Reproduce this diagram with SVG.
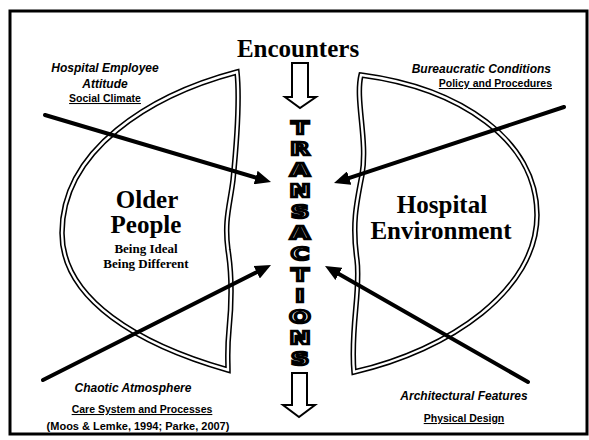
<svg xmlns="http://www.w3.org/2000/svg" width="589" height="440" viewBox="0 0 589 440">
<style>
.bg{fill:#fff}
.frame{fill:none;stroke:#000;stroke-width:3}
.outer{fill:none;stroke:#000;stroke-width:5.5;stroke-linejoin:miter}
.inner{fill:none;stroke:#fff;stroke-width:2.4;stroke-linejoin:miter}
.big{font-family:"Liberation Serif","Times New Roman",serif;font-weight:bold;font-size:25px;fill:#000;text-anchor:middle}
.sub{font-family:"Liberation Serif","Times New Roman",serif;font-weight:bold;font-size:13px;fill:#000;text-anchor:middle}
.lab{font-family:"Liberation Sans",Arial,sans-serif;font-weight:bold;font-style:italic;font-size:12px;fill:#000}
.und{font-family:"Liberation Sans",Arial,sans-serif;font-weight:bold;font-size:10.5px;fill:#000;text-decoration:underline}
.ref{font-family:"Liberation Sans",Arial,sans-serif;font-weight:bold;font-size:11px;fill:#000}
.tr{font-family:"DejaVu Sans",sans-serif;font-weight:bold;font-size:18px;fill:#fff;stroke:#000;stroke-width:2.6;text-anchor:middle}
.conn{fill:none;stroke:#000;stroke-width:4;stroke-linecap:round}
.block{fill:#fff;stroke:#000;stroke-width:2;stroke-linejoin:miter}
</style>
<defs>
<marker id="head" markerUnits="userSpaceOnUse" markerWidth="16" markerHeight="14" refX="6" refY="7" orient="auto">
<path d="M0,0 L16,7 L0,14 z" fill="#000"/>
</marker>
</defs>
<rect class="bg" x="0" y="0" width="589" height="440"/>
<g id="frame"><rect class="frame" x="10" y="11" width="577" height="423"/></g>

<g id="node-older-people">
<path class="outer" d="M237,72 C150,95 62,150 62,233 C62,300 140,345 228,370 C228,360 227,350 229,330 C232,300 232,275 228,250 C224,220 230,205 233,180 C236,150 240,100 237,72 Z"/>
<path class="inner" d="M237,72 C150,95 62,150 62,233 C62,300 140,345 228,370 C228,360 227,350 229,330 C232,300 232,275 228,250 C224,220 230,205 233,180 C236,150 240,100 237,72 Z"/>
<text class="big" x="147" y="208">Older</text>
<text class="big" x="146" y="233">People</text>
<text class="sub" x="146" y="253">Being Ideal</text>
<text class="sub" x="146" y="268">Being Different</text>
</g>

<g id="node-hospital-environment">
<path class="outer" d="M361,75 C460,88 537,140 537,215 C537,290 450,350 354,372 C350,330 361,290 357,260 C352,225 356,205 362,175 C368,140 355,100 361,75 Z"/>
<path class="inner" d="M361,75 C460,88 537,140 537,215 C537,290 450,350 354,372 C350,330 361,290 357,260 C352,225 356,205 362,175 C368,140 355,100 361,75 Z"/>
<text class="big" x="442" y="213">Hospital</text>
<text class="big" x="441" y="239">Environment</text>
</g>

<g id="node-encounters">
<text class="big" x="298" y="57">Encounters</text>
</g>

<g id="node-transactions" transform="translate(300,0) scale(1.4,1)">
<text class="tr"><tspan x="0" y="134">T</tspan><tspan x="0" y="155">R</tspan><tspan x="0" y="176">A</tspan><tspan x="0" y="197">N</tspan><tspan x="0" y="218">S</tspan><tspan x="0" y="239">A</tspan><tspan x="0" y="260">C</tspan><tspan x="0" y="281">T</tspan><tspan x="0" y="302">I</tspan><tspan x="0" y="323">O</tspan><tspan x="0" y="344">N</tspan><tspan x="0" y="365">S</tspan></text>
</g>

<g id="label-social-climate">
<text class="lab" x="105" y="72" text-anchor="middle">Hospital Employee</text>
<text class="lab" x="105" y="88" text-anchor="middle">Attitude</text>
<text class="und" x="105" y="102" text-anchor="middle">Social Climate</text>
</g>
<g id="label-policy">
<text class="lab" x="551" y="73" text-anchor="end">Bureaucratic Conditions</text>
<text class="und" x="552" y="87" text-anchor="end">Policy and Procedures</text>
</g>
<g id="label-care-system">
<text class="lab" x="133" y="392" text-anchor="middle">Chaotic Atmosphere</text>
<text class="und" x="142" y="413" text-anchor="middle">Care System and Processes</text>
<text class="ref" x="138" y="430" text-anchor="middle">(Moos &amp; Lemke, 1994; Parke, 2007)</text>
</g>
<g id="label-physical-design">
<text class="lab" x="464" y="400" text-anchor="middle">Architectural Features</text>
<text class="und" x="464" y="422" text-anchor="middle">Physical Design</text>
</g>

<g id="connectors">
<polygon class="block" points="292,63 308,63 308,97 316,97 300,108 285,97 292,97"/>
<polygon class="block" points="292,373 307,373 307,405 315,405 299,417 283,405 292,405"/>
<path class="conn" d="M45,115 L261.4,179.2" marker-end="url(#head)"/>
<path class="conn" d="M564,107 L343.5,179.9" marker-end="url(#head)"/>
<path class="conn" d="M43,380 L262.1,269.5" marker-end="url(#head)"/>
<path class="conn" d="M528,382 L333.7,271" marker-end="url(#head)"/>
</g>
</svg>
